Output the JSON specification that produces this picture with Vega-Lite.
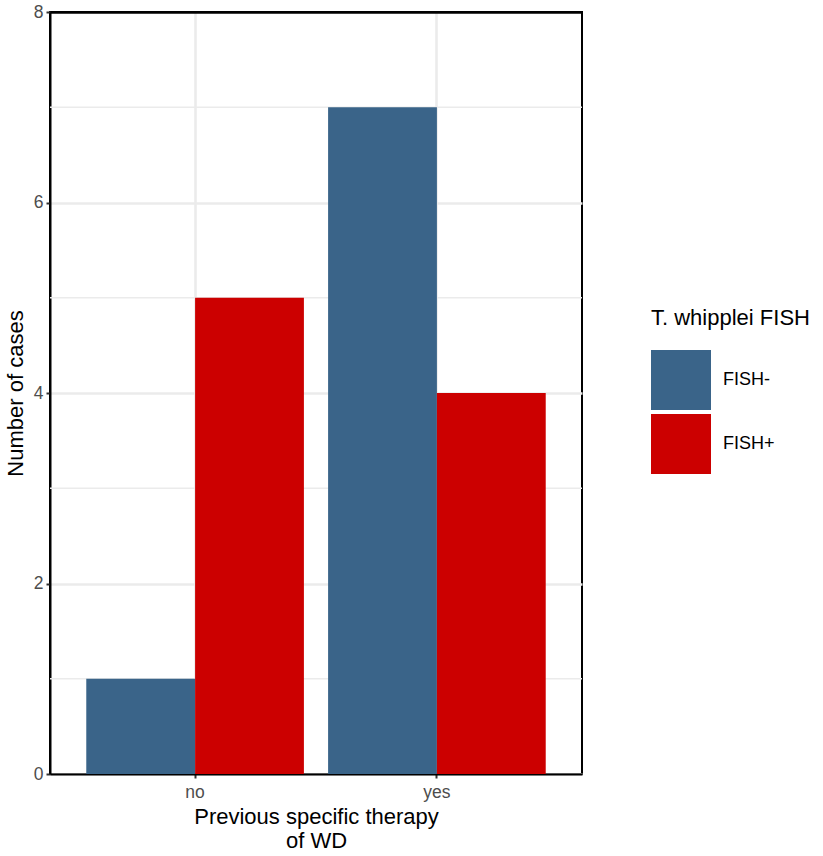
{
  "$schema": "https://vega.github.io/schema/vega-lite/v6.json",
  "autosize": "none",
  "width": 532,
  "height": 762,
  "padding": {"left": 50, "top": 12, "right": 241, "bottom": 82},
  "background": "white",
  "view": {"stroke": "black", "strokeWidth": 2, "fill": "white"},
  "config": {
    "font": "Liberation Sans",
    "axis": {
      "domainColor": "black",
      "domainWidth": 2,
      "tickColor": "#333333",
      "tickWidth": 2,
      "tickSize": 4,
      "labelColor": "#4D4D4D",
      "labelFont": "Liberation Sans",
      "labelFontSize": 17.5,
      "titleFont": "Liberation Sans",
      "titleFontSize": 22,
      "titleFontWeight": "normal",
      "titleColor": "black",
      "gridColor": "#EBEBEB",
      "gridWidth": 2.6
    },
    "legend": {
      "titleFont": "Liberation Sans",
      "titleFontSize": 22,
      "titleFontWeight": "normal",
      "titleColor": "black",
      "labelFont": "Liberation Sans",
      "labelFontSize": 18,
      "labelColor": "black"
    }
  },
  "datasets": {
    "cases": [
      {"therapy": "no", "fish": "FISH-", "n": 1},
      {"therapy": "no", "fish": "FISH+", "n": 5},
      {"therapy": "yes", "fish": "FISH-", "n": 7},
      {"therapy": "yes", "fish": "FISH+", "n": 4}
    ],
    "minor": [{"v": 1}, {"v": 3}, {"v": 5}, {"v": 7}]
  },
  "layer": [
    {
      "data": {"name": "minor"},
      "mark": {"type": "rule", "color": "#EBEBEB", "strokeWidth": 1.3},
      "encoding": {
        "y": {"field": "v", "type": "quantitative", "scale": {"domain": [0, 8], "nice": false, "zero": true}}
      }
    },
    {
      "data": {"name": "cases"},
      "mark": {"type": "bar"},
      "encoding": {
        "x": {
          "field": "therapy",
          "type": "nominal",
          "sort": ["no", "yes"],
          "scale": {"paddingInner": 0.1, "paddingOuter": 0.15},
          "axis": {
            "title": ["Previous specific therapy", "of WD"],
            "labelAngle": 0,
            "grid": true,
            "bandPosition": 0.5,
            "labelPadding": 5,
            "titlePadding": 6
          }
        },
        "xOffset": {"field": "fish", "type": "nominal", "sort": ["FISH-", "FISH+"], "scale": {"paddingInner": 0, "paddingOuter": 0}},
        "y": {
          "field": "n",
          "type": "quantitative",
          "scale": {"domain": [0, 8], "nice": false, "zero": true},
          "axis": {
            "title": "Number of cases",
            "values": [0, 2, 4, 6, 8],
            "format": "d",
            "grid": true,
            "gridColor": {"condition": {"test": "datum.value === 8", "value": "black"}, "value": "#EBEBEB"},
            "labelPadding": 3,
            "titlePadding": 6
          }
        },
        "color": {
          "field": "fish",
          "type": "nominal",
          "sort": ["FISH-", "FISH+"],
          "scale": {"domain": ["FISH-", "FISH+"], "range": ["#3A6489", "#CC0000"]},
          "legend": {
            "title": "T. whipplei FISH",
            "orient": "none",
            "legendX": 601,
            "legendY": 296,
            "symbolType": "square",
            "symbolSize": 3600,
            "symbolStrokeWidth": 0,
            "rowPadding": 4,
            "titlePadding": 20,
            "labelOffset": 12
          }
        }
      }
    }
  ]
}
